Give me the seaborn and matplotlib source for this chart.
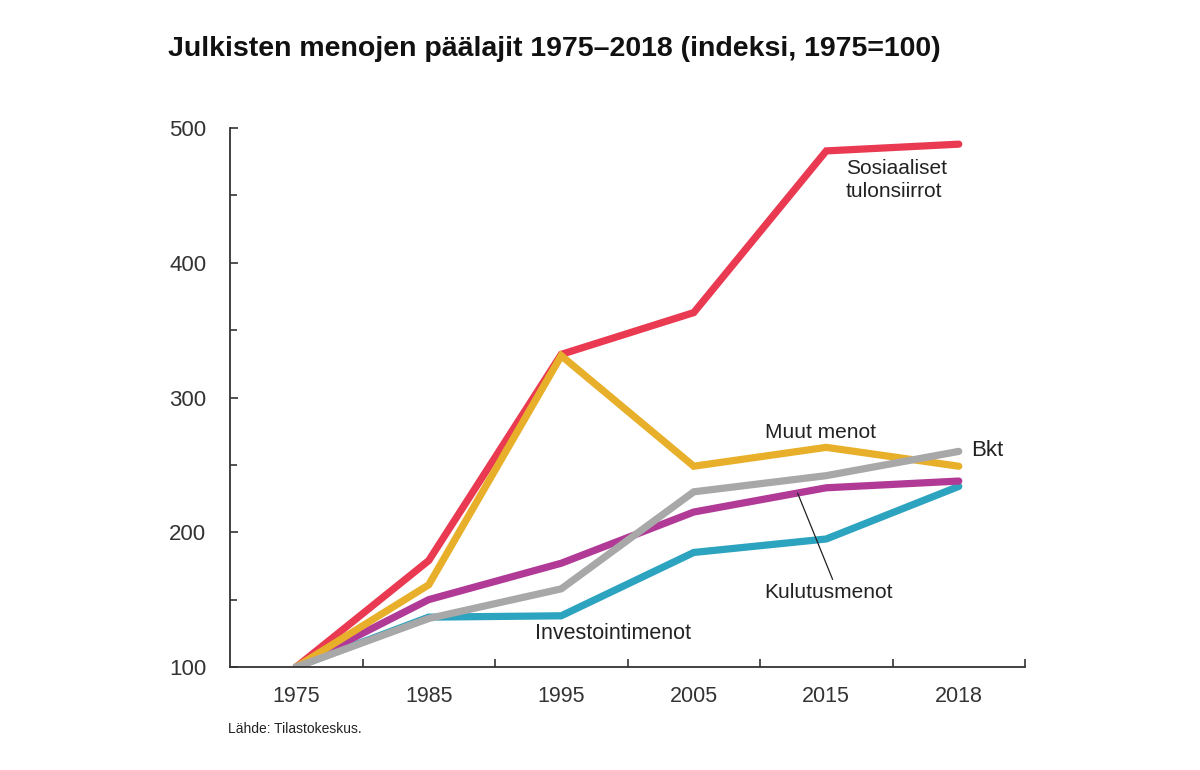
import matplotlib
matplotlib.use("Agg")
import matplotlib.pyplot as plt
import seaborn as sns
import pandas as pd

years = ["1975", "1985", "1995", "2005", "2015", "2018"]
investointimenot = [100, 137, 138, 185, 195, 234]
kulutusmenot = [100, 150, 177, 215, 233, 238]
sosiaaliset = [100, 179, 332, 363, 483, 488]
muut_menot = [100, 161, 331, 249, 263, 249]
bkt = [100, 136, 158, 230, 242, 260]

series_names = ["Investointimenot", "Kulutusmenot", "Sosiaaliset tulonsiirrot", "Muut menot", "Bkt"]
series_values = [investointimenot, kulutusmenot, sosiaaliset, muut_menot, bkt]
colors = ["#2CA3BF", "#B13A97", "#E93A52", "#E8B02A", "#A8A8A8"]

rows = []
for name, vals in zip(series_names, series_values):
    for i, v in enumerate(vals):
        rows.append({"pos": i, "year": years[i], "value": v, "series": name})
df = pd.DataFrame(rows)

sns.set_theme(style="white")
plt.rcParams["font.family"] = ["Liberation Sans", "DejaVu Sans"]

fig = plt.figure(figsize=(12, 7.7), dpi=100)
ax = fig.add_axes([230 / 1200, 1 - 667 / 770, (1025 - 230) / 1200, (667 - 128) / 770])

sns.lineplot(data=df, x="pos", y="value", hue="series", hue_order=series_names,
             palette=colors, linewidth=5.2, sort=False, legend=False, ax=ax)
for ln in ax.get_lines():
    ln.set_solid_capstyle("round")
    ln.set_solid_joinstyle("miter")

ax.set_xlim(-0.5, 5.5)
ax.set_ylim(100, 500)
ax.set_xlabel("")
ax.set_ylabel("")

ax.set_xticks(range(len(years)))
ax.set_xticklabels(years)
ax.set_xticks([i + 0.5 for i in range(len(years))], minor=True)
ax.set_yticks([100, 200, 300, 400, 500])
ax.set_yticks([150, 250, 350, 450], minor=True)

ax.tick_params(axis="x", which="major", bottom=False, length=0, pad=14, labelsize=15.5,
               labelcolor="#333333")
ax.tick_params(axis="x", which="minor", bottom=True, direction="in", length=6, width=1.2,
               color="#333333")
ax.tick_params(axis="y", which="both", left=True, direction="in", length=6, width=1.2,
               color="#333333", pad=17, labelsize=16, labelcolor="#333333")
ax.tick_params(axis="y", which="minor", length=5)

for s in ["top", "right"]:
    ax.spines[s].set_visible(False)
for s in ["left", "bottom"]:
    ax.spines[s].set_color("#333333")
    ax.spines[s].set_linewidth(1.3)

tc = "#222222"
fs = 15
ax.text(4.147, 477, "Sosiaaliset\ntulonsiirrot", ha="left", va="top", fontsize=fs, color=tc,
        linespacing=1.3)
ax.text(3.535, 274, "Muut menot", ha="left", va="center", fontsize=fs, color=tc)
ax.text(5.09, 261, "Bkt", ha="left", va="center", fontsize=fs + 1, color=tc)
ax.text(3.535, 155.5, "Kulutusmenot", ha="left", va="center", fontsize=fs, color=tc)
ax.text(1.805, 125, "Investointimenot", ha="left", va="center", fontsize=fs + 0.5, color=tc)
ax.plot([3.784, 4.048], [229, 165], color="#222222", linewidth=0.9)

fig.text(168 / 1200, 1 - 49 / 770, "Julkisten menojen päälajit 1975–2018 (indeksi, 1975=100)",
         ha="left", va="center", fontsize=20.5, fontweight="bold", color="#111111",
         family=["Liberation Sans", "DejaVu Sans"])
fig.text(228 / 1200, 1 - 729 / 770, "Lähde: Tilastokeskus.", ha="left", va="center",
         fontsize=10, color="#222222")

fig.savefig("out.png", dpi=100, facecolor="white")
